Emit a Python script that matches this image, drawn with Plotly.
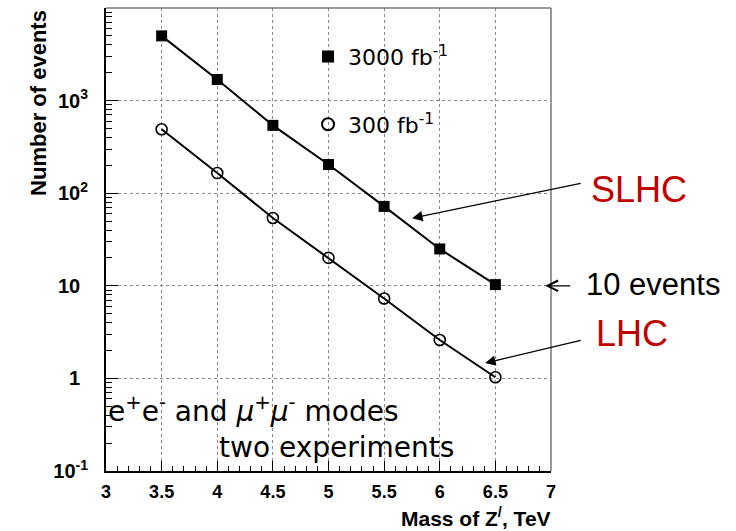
import plotly.graph_objects as go

mass = [3.5, 4.0, 4.5, 5.0, 5.5, 6.0, 6.5]
events_3000 = [5000, 1690, 540, 204, 72, 25, 10.3]
events_300 = [490, 165, 54, 20, 7.3, 2.6, 1.03]
ytick_vals = [0.1, 1, 10, 100, 1000]
ytick_text = ["10<sup>-1</sup>", "1<sup>\u2007</sup>", "10<sup>\u2007</sup>", "10<sup>2</sup>", "10<sup>3</sup>"]
xtick_vals = [3, 3.5, 4, 4.5, 5, 5.5, 6, 6.5, 7]

fig = go.Figure()
fig.add_trace(go.Scatter(
    x=mass, y=events_3000, mode="lines+markers", showlegend=False,
    line=dict(color="black", width=2),
    marker=dict(symbol="square", size=11, color="black")))
fig.add_trace(go.Scatter(
    x=mass, y=events_300, mode="lines+markers", showlegend=False,
    line=dict(color="black", width=2),
    marker=dict(symbol="circle-open", size=11, color="black", line=dict(width=1.6))))
# legend entries (markers only)
fig.add_trace(go.Scatter(x=[None], y=[None], mode="markers", name="3000 fb<sup>-1</sup>",
                         marker=dict(symbol="square", size=11, color="black"), legendgroup="a"))
fig.add_trace(go.Scatter(x=[None], y=[None], mode="markers", name="300 fb<sup>-1</sup>",
                         marker=dict(symbol="circle-open", size=11, color="black", line=dict(width=1.6)),
                         legendgroup="b"))

fig.update_layout(
    width=736, height=531, autosize=False,
    margin=dict(l=106, r=185, t=8, b=60),
    plot_bgcolor="white", paper_bgcolor="white",
    font=dict(family="Liberation Sans", color="black"),
    showlegend=True,
    legend=dict(x=0.454, y=0.94, xanchor="left", yanchor="top",
                bgcolor="rgba(0,0,0,0)", tracegroupgap=36,
                font=dict(family="DejaVu Sans", size=22, color="black"),
                itemsizing="constant"),
    xaxis=dict(range=[3, 7], tickvals=xtick_vals, automargin=False,
               ticks="inside", ticklen=10, tickwidth=1, tickcolor="black",
               showgrid=True, gridcolor="#888", griddash="dot", gridwidth=1,
               showline=True, linecolor="black", linewidth=2, mirror=False,
               tickfont=dict(size=18, weight="bold"),
               ticklabelstandoff=3,
               minor=dict(dtick=0.1, ticks="inside", ticklen=5, tickcolor="black", showgrid=False),
               zeroline=False),
    yaxis=dict(type="log", range=[-1, 4], tickvals=ytick_vals, ticktext=ytick_text,
               automargin=False,
               ticks="inside", ticklen=12, tickwidth=1, tickcolor="black",
               showgrid=True, gridcolor="#888", griddash="dot", gridwidth=1,
               showline=True, linecolor="black", linewidth=2,
               tickfont=dict(size=20, weight="bold"),
               ticklabelstandoff=12,
               minor=dict(dtick="D1", ticks="inside", ticklen=6, tickcolor="black", showgrid=False),
               zeroline=False),
)

# top & right frame (grey)
fig.add_shape(type="line", xref="paper", yref="paper", x0=0, x1=1, y0=1, y1=1,
              line=dict(color="#777", width=1.5))
fig.add_shape(type="line", xref="paper", yref="paper", x0=1, x1=1, y0=0, y1=1,
              line=dict(color="#777", width=1.5))

# axis titles
fig.add_annotation(text="<b>Number of events</b>", xref="paper", yref="paper",
                   x=-0.153, y=1.0, xanchor="center", yanchor="top", textangle=-90,
                   showarrow=False, font=dict(size=22, family="Liberation Sans"))
fig.add_annotation(text="<b>Mass of Z<sup>/</sup>, TeV</b>", xref="paper", yref="paper",
                   x=1.005, y=-0.099, xanchor="right", yanchor="middle",
                   showarrow=False, font=dict(size=21, family="Liberation Sans"))

# inner text
fig.add_annotation(text="e<sup>+</sup>e<sup>-</sup> and <i>μ</i><sup>+</sup><i>μ</i><sup>-</sup> modes",
                   x=0.0, y=0.132, xref="x domain", yref="y domain",
                   xanchor="left", yanchor="middle",
                   showarrow=False, font=dict(size=28, family="DejaVu Sans"))
fig.add_annotation(text="two experiments", x=0.25, y=0.05, xref="x domain", yref="y domain",
                   xanchor="left", yanchor="middle",
                   showarrow=False, font=dict(size=28, family="DejaVu Sans"))

# outside labels with arrows
fig.add_annotation(text="SLHC", xref="paper", yref="paper", x=1.085, y=0.607,
                   xanchor="left", yanchor="middle", showarrow=False,
                   font=dict(size=36, color="#c00000", family="Liberation Sans"))
fig.add_annotation(text="10 events", xref="paper", yref="paper", x=1.074, y=0.402,
                   xanchor="left", yanchor="middle", showarrow=False,
                   font=dict(size=31, color="black", family="Liberation Sans"))
fig.add_annotation(text="LHC", xref="paper", yref="paper", x=1.097, y=0.298,
                   xanchor="left", yanchor="middle", showarrow=False,
                   font=dict(size=36, color="#c00000", family="Liberation Sans"))

arrow_kw = dict(xref="x domain", yref="y domain", axref="x domain", ayref="y domain",
                text="", showarrow=True, arrowcolor="black", arrowwidth=1.3)
fig.add_annotation(x=0.688, y=0.546, ax=1.07, ay=0.622, arrowhead=2, arrowsize=1.6, **arrow_kw)
fig.add_annotation(x=0.987, y=0.40, ax=1.047, ay=0.40, arrowhead=5, arrowsize=1.6, **arrow_kw)
fig.add_annotation(x=0.852, y=0.233, ax=1.07, ay=0.283, arrowhead=2, arrowsize=1.6, **arrow_kw)

fig.write_html("out.html", config={"displayModeBar": False},
               post_script="document.body.style.margin='0';")
